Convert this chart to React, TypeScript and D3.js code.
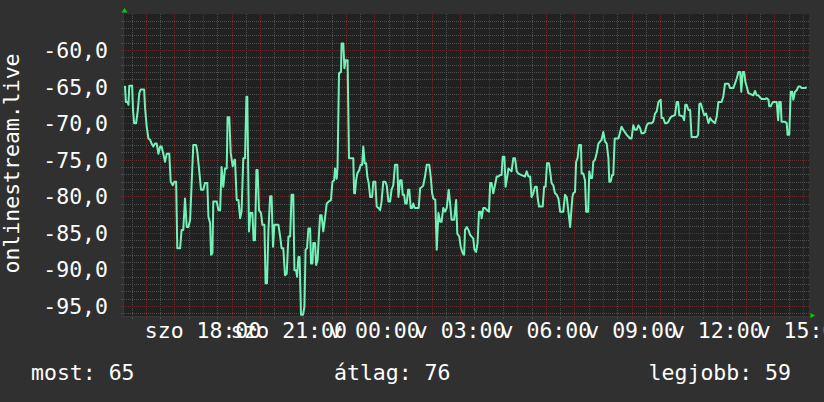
import React from 'react';
import * as d3 from 'd3';

// time in hours since Saturday 00:00 (24+ = Sunday)
const hours = [
  15.27, 15.30, 15.36, 15.39, 15.42, 15.52, 15.55, 15.59, 15.66, 15.72, 15.77, 15.82, 15.94, 15.97,
  16.03, 16.09, 16.15, 16.20, 16.26, 16.32, 16.38, 16.44, 16.50, 16.55, 16.61, 16.67, 16.73, 16.82,
  16.87, 16.94, 17.00, 17.06, 17.10, 17.20, 17.25, 17.31, 17.37, 17.43, 17.49, 17.55, 17.60, 17.66,
  17.76, 17.80, 17.87, 17.93, 18.01, 18.07, 18.15, 18.19, 18.25, 18.28, 18.33, 18.36, 18.48, 18.54,
  18.60, 18.65, 18.71, 18.77, 18.83, 18.86, 18.92, 18.97, 19.04, 19.10,
  19.12, 19.18, 19.24, 19.30, 19.35, 19.41, 19.47, 19.52, 19.55, 19.61, 19.66, 19.73, 19.77, 19.82,
  19.87, 19.91, 19.96, 20.03, 20.08, 20.15, 20.19, 20.24, 20.29, 20.35, 20.40, 20.45, 20.50, 20.64,
  20.70, 20.75, 20.81, 20.87, 20.93, 20.99, 21.05, 21.10, 21.16, 21.20, 21.26, 21.29, 21.34, 21.38,
  21.43, 21.50, 21.55, 21.59, 21.64, 21.69, 21.75, 21.78, 21.83, 21.86, 21.92, 21.96, 22.01, 22.06,
  22.10, 22.15, 22.21, 22.27, 22.33, 22.41, 22.48, 22.53, 22.59, 22.62, 22.68, 22.71, 22.76, 22.83,
  22.85, 22.91, 22.95, 22.99, 23.06, 23.11, 23.26,
  23.29, 23.32, 23.36, 23.40, 23.47, 23.52, 23.57, 23.61, 23.66, 23.71, 23.75, 23.80, 23.85, 23.92,
  23.96, 24.03, 24.08, 24.14, 24.20, 24.25, 24.31, 24.38, 24.43, 24.49, 24.55, 24.60, 24.66, 24.72,
  24.80, 24.84, 24.90, 24.95, 24.99, 25.04, 25.08, 25.13, 25.18, 25.22, 25.27, 25.32, 25.36, 25.41,
  25.55, 25.60, 25.67, 25.71, 25.77, 25.83, 25.92, 25.97, 26.02, 26.06, 26.13, 26.18, 26.24, 26.30,
  26.35, 26.41, 26.47, 26.53, 26.60, 26.65, 26.70, 26.79, 26.86, 26.90, 26.97, 27.02, 27.09, 27.14,
  27.17, 27.23,
  27.29, 27.35, 27.40, 27.46, 27.50, 27.56, 27.61, 27.66, 27.72, 27.75, 27.81, 27.87, 27.94, 28.01,
  28.05, 28.10, 28.16, 28.22, 28.28, 28.34, 28.40, 28.45, 28.49, 28.55, 28.59, 28.65, 28.69, 28.75,
  28.80, 28.86, 28.92, 28.98, 29.04, 29.15, 29.27, 29.33, 29.39, 29.45, 29.50, 29.56, 29.62, 29.68,
  29.71, 29.76, 29.89, 29.94, 29.99, 30.04, 30.11, 30.16, 30.20, 30.26, 30.32, 30.38, 30.44, 30.50,
  30.61, 30.67, 30.73, 30.79, 30.85, 30.88, 30.93, 30.96, 31.02, 31.06, 31.11, 31.16, 31.23,
  31.25, 31.31, 31.37, 31.41, 31.48, 31.52, 31.57, 31.62, 31.66, 31.72, 31.78, 31.84, 31.90, 31.95,
  32.01, 32.07, 32.13, 32.19, 32.22, 32.27, 32.32, 32.36, 32.41, 32.54, 32.60, 32.65, 32.71, 32.83,
  32.95, 33.00, 33.06, 33.12, 33.18, 33.24, 33.30, 33.35, 33.41, 33.47, 33.53, 33.59, 33.70, 33.76,
  33.82, 33.88, 33.94, 34.02, 34.05, 34.11, 34.17, 34.23, 34.29, 34.35, 34.40, 34.52, 34.58, 34.63,
  34.67, 34.79, 34.84, 34.88, 34.93, 34.99, 35.05, 35.10, 35.28, 35.33, 35.37,
  35.42, 35.49, 35.54, 35.61, 35.69, 35.75, 35.80, 35.86, 35.92, 35.98, 36.04, 36.15, 36.21, 36.27,
  36.39, 36.45, 36.56, 36.62, 36.68, 36.74, 36.80, 36.84, 36.89, 36.94, 36.98, 37.03, 37.09, 37.26,
  37.32, 37.38, 37.44, 37.50, 37.55, 37.67, 37.73, 37.79, 37.82, 37.87, 37.92, 37.96, 38.08, 38.13,
  38.17, 38.22, 38.25, 38.37, 38.43, 38.46, 38.52, 38.57, 38.62, 38.66, 38.72, 38.78, 38.84, 38.90,
  38.95, 39.07, 39.13,
];

const values = [
  -64.9, -67.1, -67.1, -67.5, -64.9, -64.9, -68.2, -70.0, -70.0, -68.2, -65.9, -65.4, -65.4, -67.8,
  -70.5, -72.1, -72.3, -72.8, -73.2, -72.8, -72.8, -74.2, -73.2, -73.2, -74.2, -75.3, -74.2, -74.2,
  -78.0, -78.5, -78.0, -78.0, -87.1, -87.1, -84.6, -84.6, -80.3, -84.2, -84.2, -83.2, -78.5, -73.0,
  -73.0, -73.9, -76.6, -79.1, -79.1, -78.2, -78.2, -82.8, -83.7, -88.0, -87.8, -80.7, -80.7, -81.9,
  -81.9, -76.0, -78.7, -76.2, -76.2, -69.2, -69.2, -74.1, -75.9, -75.0,
  -75.0, -80.5, -80.5, -83.0, -82.1, -74.8, -74.8, -66.4, -66.4, -84.8, -82.3, -82.3, -86.0, -86.0,
  -76.4, -76.4, -81.9, -82.3, -83.9, -83.9, -91.9, -91.9, -84.6, -80.0, -80.0, -86.9, -83.9, -83.9,
  -85.5, -87.1, -87.1, -90.8, -90.6, -85.5, -85.5, -79.8, -79.8, -90.1, -90.1, -91.0, -88.3, -88.3,
  -96.2, -96.2, -95.1, -87.3, -87.1, -84.4, -84.4, -89.2, -89.2, -86.4, -86.4, -89.4, -88.7, -85.1,
  -82.6, -82.6, -84.8, -83.0, -81.0, -80.7, -80.5, -78.0, -77.8, -76.2, -77.6, -75.9, -63.2, -63.0,
  -59.1, -59.1, -62.5, -61.4, -61.4, -74.8, -74.8,
  -79.6, -79.6, -77.8, -76.9, -76.4, -75.7, -75.7, -73.2, -75.5, -75.5, -77.3, -78.2, -80.1, -80.1,
  -78.0, -78.0, -81.4, -81.6, -81.9, -80.7, -78.0, -78.0, -78.5, -80.7, -80.7, -79.1, -78.5, -75.7,
  -75.7, -80.1, -77.8, -77.8, -79.8, -79.8, -81.0, -81.0, -79.1, -79.1, -81.6, -81.6, -81.0, -81.6,
  -81.6, -78.9, -78.7, -78.5, -77.3, -75.7, -75.7, -77.3, -79.6, -80.3, -80.5, -87.3, -82.3, -83.5,
  -83.5, -81.6, -82.1, -81.6, -79.1, -81.0, -83.2, -83.2, -80.5, -85.1, -85.5, -86.9, -87.8, -88.0,
  -84.6, -84.2,
  -84.6, -85.3, -85.5, -85.8, -87.3, -87.6, -86.4, -82.1, -82.1, -83.0, -81.6, -81.6, -81.9, -82.1,
  -78.2, -78.2, -79.6, -78.5, -77.3, -77.3, -77.1, -77.1, -74.6, -74.6, -78.7, -77.3, -76.2, -76.4,
  -76.6, -74.8, -74.8, -76.6, -76.9, -77.1, -77.3, -76.6, -77.3, -77.3, -80.1, -79.6, -78.7, -78.7,
  -80.1, -81.4, -81.4, -78.7, -78.7, -75.5, -75.5, -76.9, -78.2, -78.5, -79.6, -79.8, -80.3, -82.1,
  -82.1, -79.8, -80.1, -82.1, -84.2, -82.6, -80.1, -79.6, -79.4, -75.3, -74.8, -73.0, -73.0,
  -76.9, -76.9, -77.8, -82.1, -82.1, -76.6, -77.5, -77.5, -75.3, -75.0, -74.1, -72.8, -72.5, -72.3,
  -71.2, -72.5, -72.8, -74.8, -78.0, -78.0, -77.1, -77.1, -72.1, -72.1, -71.2, -70.5, -70.9, -71.6,
  -72.1, -72.1, -70.3, -70.9, -70.9, -70.3, -70.7, -71.4, -71.4, -71.2, -70.3, -70.0, -70.0, -69.8,
  -68.7, -68.4, -67.1, -66.8, -69.3, -69.3, -70.0, -70.0, -69.8, -69.3, -69.1, -68.9, -67.1, -67.1,
  -68.9, -69.1, -69.6, -67.5, -67.5, -68.2, -68.2, -71.9, -71.9, -71.6, -67.4,
  -67.3, -68.2, -68.9, -68.7, -70.0, -69.3, -69.6, -69.8, -70.0, -69.1, -67.1, -67.1, -66.4, -64.6,
  -64.6, -65.2, -65.2, -64.6, -63.9, -63.0, -63.0, -65.7, -63.0, -63.0, -64.3, -65.0, -65.9, -66.2,
  -65.6, -66.2, -66.2, -66.5, -66.7, -66.7, -66.6, -66.8, -67.7, -67.7, -67.3, -67.1, -67.1, -69.6,
  -67.1, -67.1, -69.8, -69.8, -70.0, -71.6, -71.6, -65.7, -65.7, -66.8, -65.7, -65.5, -65.0, -65.0,
  -65.2, -65.2, -65.1,
];

const timeWindow = [15.235, 39.21];
const valueWindow = [-96.37, -55.08];
const yTickValues = [-60, -65, -70, -75, -80, -85, -90, -95];
const xLabelHours = [18, 21, 24, 27, 30, 33, 36, 39];
const dayNames = ['szo', 'v'];
const yTitle = 'onlinestream.live';
const legendLabels = ['most: 65', 'átlag: 76', 'legjobb: 59'];

const W = 824;
const H = 402;
const L = 124, R = 809, T = 14, B = 316;
const FONT = "'DejaVu Sans Mono', monospace";
const MINOR = '#4e4e4e';
const MAJOR = '#632c2c';

export default function App() {
  const x = d3.scaleLinear().domain(timeWindow).range([L, R]);
  const y = d3.scaleLinear().domain(valueWindow).range([B, T]);
  const pts = hours.map((h, i) => [h, values[i]] as [number, number]);
  const line = d3.line<[number, number]>().x(d => x(d[0])).y(d => y(d[1]));

  const vGrid = d3.range(Math.ceil(timeWindow[0] * 2) / 2, timeWindow[1], 0.5);
  const hGrid = d3.range(Math.ceil(valueWindow[0]), valueWindow[1], 1);
  const px = (v: number) => Math.round(v) + 0.5;
  const fmtHour = (h: number) => {
    const day = dayNames[Math.floor(h / 24)];
    const hh = String(h % 24).padStart(2, '0');
    return `${day} ${hh}:00`;
  };

  return (
    <svg width={W} height={H} style={{ position: 'absolute', left: 0, top: 0, display: 'block' }}
      fontFamily={FONT}>
      <rect x={0} y={0} width={W} height={H} fill="#303030" />
      <rect x={L} y={T} width={R - L} height={B - T} fill="#212121" />
      {/* minor grid */}
      {vGrid.filter(h => h % 1 !== 0).map(h => (
        <g key={'vm' + h}>
          <line x1={px(x(h))} x2={px(x(h))} y1={T} y2={B} stroke={MINOR} strokeDasharray="1,1" />
          <line x1={px(x(h))} x2={px(x(h))} y1={B} y2={B + 3} stroke={MINOR} />
        </g>
      ))}
      {hGrid.filter(v => v % 5 !== 0).map(v => (
        <g key={'hm' + v}>
          <line x1={L} x2={R} y1={px(y(v))} y2={px(y(v))} stroke={MINOR} strokeDasharray="1,1" />
          <line x1={L - 3} x2={L} y1={px(y(v))} y2={px(y(v))} stroke={MINOR} />
        </g>
      ))}
      {/* major grid */}
      {vGrid.filter(h => h % 1 === 0).map(h => (
        <g key={'vM' + h}>
          <line x1={px(x(h))} x2={px(x(h))} y1={T} y2={B} stroke={MAJOR} strokeDasharray="1,1" />
          <line x1={px(x(h))} x2={px(x(h))} y1={B} y2={B + 3} stroke={MAJOR} />
        </g>
      ))}
      {hGrid.filter(v => v % 5 === 0).map(v => (
        <g key={'hM' + v}>
          <line x1={L} x2={R} y1={px(y(v))} y2={px(y(v))} stroke={MAJOR} strokeDasharray="1,1" />
          <line x1={L - 3} x2={L} y1={px(y(v))} y2={px(y(v))} stroke={MAJOR} />
        </g>
      ))}
      {/* axes */}
      <line x1={L - 0.5} x2={L - 0.5} y1={T} y2={B + 2} stroke="#383838" />
      <line x1={L - 3} x2={R + 2} y1={B + 0.5} y2={B + 0.5} stroke="#383838" />
      <polygon points={`${L + 0.5},${T - 6} ${L - 2.5},${T - 1.5} ${L + 3.5},${T - 1.5}`} fill="#00d000" />
      <polygon points={`${R + 1.5},${B - 3} ${R + 1.5},${B + 2} ${R + 6},${B - 0.5}`} fill="#00d000" />
      {/* data line */}
      <path d={line(pts) || ''} fill="none" stroke="#72f2b8" strokeWidth={2} strokeLinejoin="round" />
      {/* y labels */}
      {yTickValues.map(v => (
        <text key={'yl' + v} x={108} y={y(v) + 8} fill="#ffffff" fontSize={21.5} textAnchor="end">
          {v.toFixed(1).replace('.', ',')}
        </text>
      ))}
      {/* x labels */}
      {xLabelHours.map(h => (
        <text key={'xl' + h} x={x(h)} y={338} fill="#ffffff" fontSize={21.5} textAnchor="middle">
          {fmtHour(h)}
        </text>
      ))}
      <text transform={`translate(19, 163.5) rotate(-90)`} fill="#ffffff" fontSize={21.5} textAnchor="middle">
        {yTitle}
      </text>
      <text x={31} y={380} fill="#ffffff" fontSize={21.5}>{legendLabels[0]}</text>
      <text x={334} y={380} fill="#ffffff" fontSize={21.5}>{legendLabels[1]}</text>
      <text x={791} y={380} fill="#ffffff" fontSize={21.5} textAnchor="end">{legendLabels[2]}</text>
    </svg>
  );
}
